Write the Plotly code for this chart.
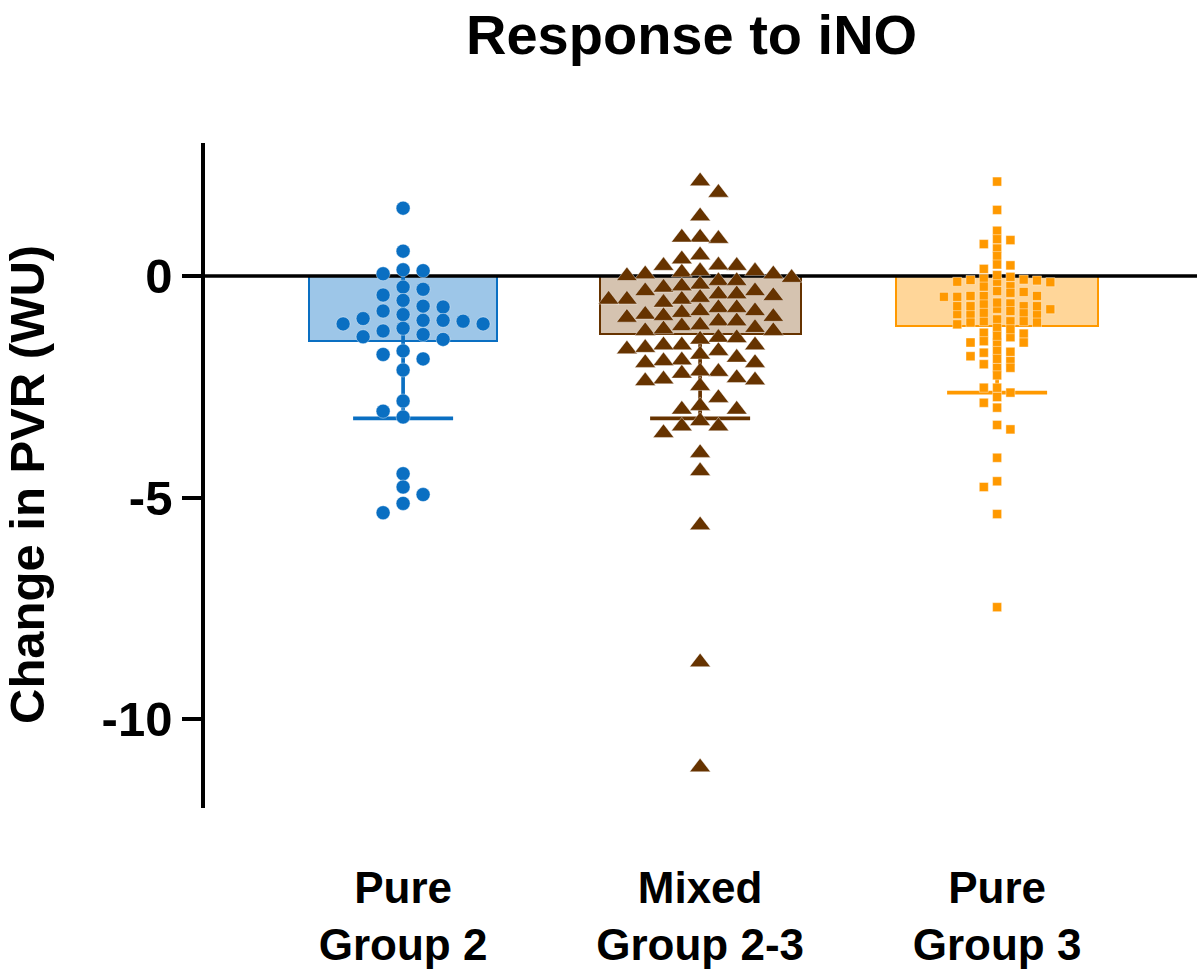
import plotly.graph_objects as go

# values (change in PVR, WU)
groups = ["Pure<br>Group 2", "Mixed<br>Group 2-3", "Pure<br>Group 3"]

pure_g2 = [1.53, 0.56, 0.12, 0.05, 0.14, -0.30, -0.43, -0.25, -0.55, -0.70,
           -0.68, -0.87, -0.79, -1.02, -1.00, -1.00, -1.08, -1.18, -0.96, -1.08,
           -1.32, -1.43, -1.37, -1.24, -1.69, -1.77, -1.87, -2.12, -2.82, -3.05,
           -3.18, -4.46, -4.76, -4.93, -5.13, -5.34]

mixed_g23 = [-0.26, -0.60,
             0.23, -0.11, -0.41, -0.72, -1.02, -1.39, -1.69,
             0.04, -0.53, -0.83, -1.43, -1.90, -2.33,
             0.08, -0.19, -0.49, -0.79, -1.13, -1.65, -1.96, -2.30, -2.93, -3.27,
             0.11, -0.53, -0.87, -1.17, -1.56, -1.92, -2.20, -2.75, -3.39,
             1.88, 1.35, 0.84, 0.47, -0.04, -0.41, -0.94, -1.24, -1.62, -1.96,
             -2.35, -3.54, -3.99, -4.40, -5.62, -8.71, -11.08,
             2.14, 0.87, 0.11, -0.23, -0.53, -0.90, -1.24, -1.56, -2.16, -2.48,
             -3.01, -3.39,
             0.87, 0.00, -0.34, -0.72, -1.02, -1.40, -1.77, -2.15, -3.01,
             0.23, -0.11, -0.45, -0.79, -1.11, -1.56, -2.37,
             0.38, 0.04, -0.34, -0.92, -1.20, -1.84,
             0.24]

pure_g3 = [-0.02, -0.36, -0.62, -1.02,
           -0.06, -0.23, -0.47, -0.68, -0.86, -1.02,
           -0.10, -0.47, -0.68, -0.86, -1.09, -1.38, -1.73,
           0.81, 0.62, 0.24, -0.14, -0.45, -0.68, -0.86, -1.05, -1.30, -1.50,
           -1.92, -2.07, -2.52, -3.36,
           2.13, 1.49, 1.02, 0.83, 0.45, 0.26, -0.09, -0.45, -0.74, -1.05,
           -1.28, -1.50, -1.69, -1.87, -2.07, -2.24, -2.52, -2.73, -3.46, -4.10,
           -4.76, -5.37, -7.47,
           0.72, 0.16, -0.08, -0.24, -0.60, -0.79, -0.98, -1.17, -1.35, -1.50,
           -1.81, -1.99, -2.63, -4.63,
           -2.86, -2.97,
           -0.13, -0.45, -0.64, -0.83, -1.20, -1.47, -1.71,
           -0.13, -0.34, -0.68, -0.84,
           0.02, -0.38, -0.75, -1.02]

means = [-1.47, -1.30, -1.13]
sds = [1.74, 1.91, 1.50]

dot_colors = ["#0a6fc2", "#663300", "#ff9900"]
bar_fills = ["#9dc6e8", "#d5c3b0", "#ffd699"]
symbols = ["circle", "triangle-up", "square"]
sizes = [14, 18, 9]

x_lo, x_hi = -0.667, 2.673
y_lo, y_hi = -12, 3
W, H = 1200, 976
ml, mr, mt, mb = 205, 3, 143, 168
pw, ph = W - ml - mr, H - mt - mb
px_x = pw / (x_hi - x_lo)
px_y = ph / (y_hi - y_lo)


def swarm(vals, step_px, gap_px):
    # column beeswarm: put each point in the nearest column where it doesn't overlap
    cols = {}
    offs = [0.0] * len(vals)
    order = sorted(range(len(vals)), key=lambda i: -vals[i])
    for i in order:
        yp = vals[i] * px_y
        k = 0
        n = 0
        while True:
            cands = [0] if n == 0 else sorted([n, -n], key=lambda c: len(cols.get(c, [])))
            hit = None
            for c in cands:
                if all(abs(yp - q) >= gap_px for q in cols.get(c, [])):
                    hit = c
                    break
            if hit is not None:
                k = hit
                break
            n += 1
        cols.setdefault(k, []).append(yp)
        offs[i] = k * step_px / px_x
    return offs


fig = go.Figure()

fig.add_trace(go.Bar(
    x=[0, 1, 2], y=means, width=[0.634, 0.677, 0.678],
    marker=dict(color=bar_fills, line=dict(color=dot_colors, width=2)),
    showlegend=False, hoverinfo="skip",
))

# zero line across the plot, above the bars but under the dots
fig.add_trace(go.Scatter(x=[x_lo, x_hi], y=[0, 0], mode="lines",
                         line=dict(color="black", width=3.5),
                         showlegend=False, hoverinfo="skip"))

# error bars (mean - SD) with cap
cap = 50 / px_x
for i in range(3):
    lo = means[i] - sds[i]
    top = 0 if i == 0 else means[i]
    fig.add_trace(go.Scatter(
        x=[i, i, None, i - cap, i + cap], y=[top, lo, None, lo, lo],
        mode="lines", line=dict(color=dot_colors[i], width=3.7),
        showlegend=False, hoverinfo="skip"))

series = [pure_g2, mixed_g23, pure_g3]
steps = [20, 18.3, 13.3]
gaps = [13, 13, 6]
for i, vals in enumerate(series):
    offs = swarm(vals, steps[i], gaps[i])
    fig.add_trace(go.Scatter(
        x=[i + o for o in offs], y=vals, mode="markers",
        marker=dict(symbol=symbols[i], size=sizes[i], color=dot_colors[i],
                    line=dict(width=0.8, color="rgba(255,255,255,0.5)")),
        showlegend=False))

fig.update_layout(
    width=W, height=H,
    margin=dict(l=ml, r=mr, t=mt, b=mb),
    plot_bgcolor="white", paper_bgcolor="white",
    font=dict(family="Liberation Sans, Arial", color="black"),
    xaxis=dict(range=[x_lo, x_hi], tickvals=[0, 1, 2], ticktext=["<b>%s</b>" % g for g in groups],
               showline=False, showgrid=False, zeroline=False, ticks="",
               tickfont=dict(size=44), ticklabelstandoff=50),
    yaxis=dict(range=[y_lo, y_hi], tickvals=[0, -5, -10], ticktext=["<b>0</b>", "<b>-5</b>", "<b>-10</b>"],
               showline=True, linecolor="black", linewidth=3.5, ticks="outside",
               ticklen=19, tickwidth=3.5, tickcolor="black", showgrid=False,
               zeroline=False, tickfont=dict(size=49)),
    bargap=0,
    annotations=[
        dict(text="<b>Response to iNO</b>", xref="paper", yref="paper",
             x=(691 - ml) / pw, y=(H - mb - 34) / ph, showarrow=False,
             font=dict(size=56), xanchor="center", yanchor="middle"),
        dict(text="<b>Change in PVR (WU)</b>", textangle=-90,
             xref="paper", yref="paper", x=(27 - ml) / pw,
             y=(H - mb - 485) / ph,
             showarrow=False, font=dict(size=49), xanchor="center", yanchor="middle"),
    ],
)

fig.write_html("out.html", config={"displayModeBar": False},
               post_script="document.body.style.margin='0';")
